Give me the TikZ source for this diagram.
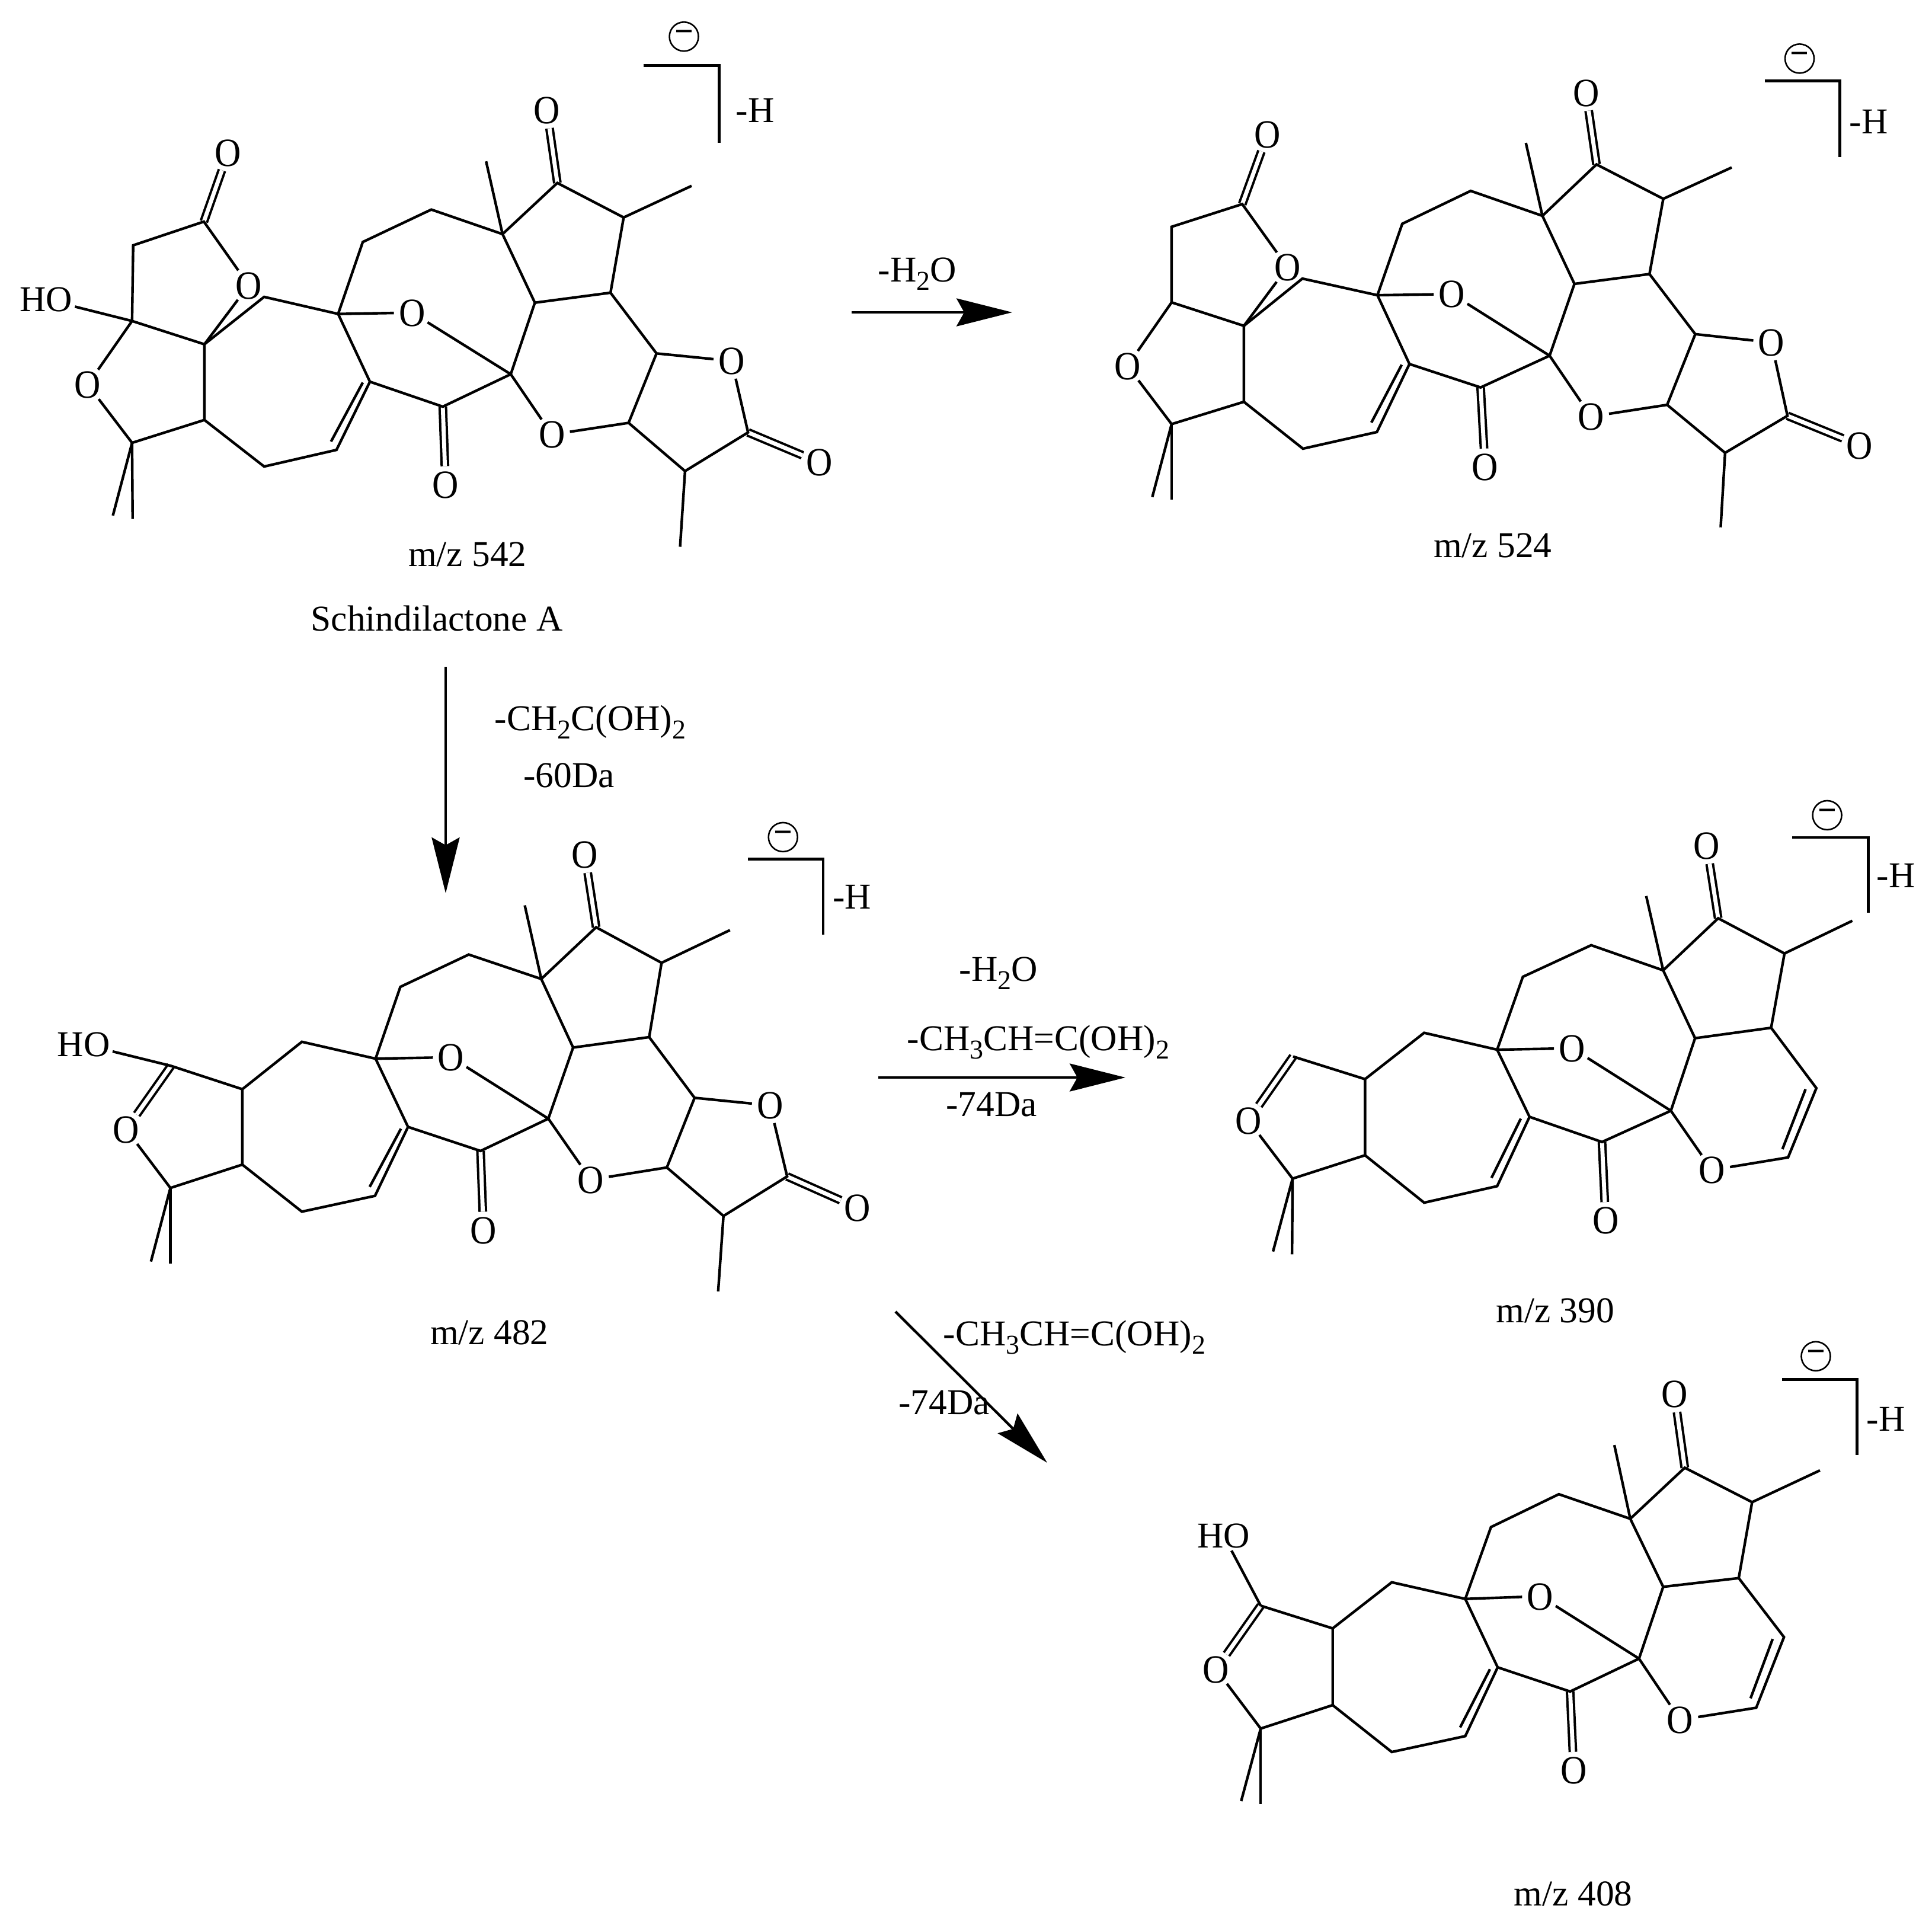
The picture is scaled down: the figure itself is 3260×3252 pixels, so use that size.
\documentclass[tikz,border=0pt]{standalone}
\usepackage{fontspec}
\usepackage{graphicx}
\setmainfont{Liberation Serif}
\usetikzlibrary{arrows.meta}

\tikzset{
  bond/.style={line width=2.2pt},
  dbl/.style={line width=2.0pt,double,double distance=3.4pt,line cap=butt},
  brk/.style={line width=2.4pt,line join=miter},
  rxn/.style={line width=2.2pt,-{Stealth[length=47pt,width=23.5pt,inset=6.5pt]}},
  lab/.style={font=\fontsize{30.7}{34}\selectfont,inner sep=2pt},
  atom/.style={font=\fontsize{30.7}{34}\selectfont,circle,inner sep=0pt,text height=20.8pt,text depth=0pt},
  negchg/.style={circle,draw,line width=1.3pt,inner sep=0pt,minimum size=24.5pt,font=\fontsize{28}{28}\selectfont\bfseries},
}

% subscripts of the formulas
\newcommand{\sbs}[1]{\raisebox{-7pt}{\fontsize{23}{23}\selectfont #1}}

% oxygens and bare vertices of one molecule
\newcommand{\placeatoms}[1]{\foreach \nm/\px/\py in {#1} \node[atom] (\nm) at (\px,\py) {\raisebox{-1pt}{\scalebox{1}[1.1]{O}}};}
\newcommand{\placespots}[1]{\foreach \nm/\px/\py in {#1} \coordinate (\nm) at (\px,\py);}

% part that all five molecules share
\newcommand{\skeleton}{
  \draw[dbl] (cw) -- (ow);
  \draw[dbl] (co) -- (oo);
  \draw[bond] (me1) -- (ce) -- (cf) -- (cd) -- (cx) -- (cj) -- (cl) -- (cm) -- (cn) -- (co) -- (cr) -- (cq) -- (cp) -- (cn) -- (men);
  \draw[bond] (ce) -- (me2);
  \draw[bond] (cr) -- (mer);
  \draw[bond] (cp) -- (ck);
  \draw[bond] (cj) -- (oa) -- (ck) -- (of);
  \draw[bond] (cj) -- (ci) -- (cw) -- (ck);
  \draw[bond] (cf) -- (cg) -- (ch) -- (ci);
  \draw[bond] (ci1) -- (ci2);
}

% left lactone of the two upper molecules
\newcommand{\spiroleft}{
  \draw[dbl] (ca) -- (ot);
  \draw[bond] (cd) -- (oh) -- (ca) -- (cb) -- (cc) -- (cd);
  \draw[bond] (cc) -- (ob) -- (ce);
}
% left ring of the three lower molecules
\newcommand{\openleft}{
  \draw[dbl] (cc) -- (ob);
  \draw[bond] (cd) -- (cc);
  \draw[bond] (ob) -- (ce);
}
% right lactone
\newcommand{\lactoneright}{
  \draw[dbl] (ct) -- (oe);
  \draw[bond] (cq) -- (cs) -- (od) -- (ct) -- (cu) -- (cv) -- (cs);
  \draw[bond] (cu) -- (meu);
  \draw[bond] (cv) -- (of);
}
% right pyran
\newcommand{\pyranright}{
  \draw[bond] (cq) -- (cs) -- (ct) -- (of);
  \draw[bond] (cs1) -- (cs2);
}
% bracket with charge and label
\newcommand{\anionmark}[5]{
  \coordinate (bl) at (#1);
  \coordinate (bc) at (#2);
  \coordinate (be) at (#3);
  \draw[brk] (bl) -- (bc) -- (be);
  \node[negchg] (neg) at (#4) {\raisebox{0.5pt}{−}};
  \node[lab] (dep) at (#5) {-H};
}

\begin{document}
\begin{tikzpicture}[x=0.5pt,y=-0.5pt]

  \useasboundingbox (0,0) rectangle (3260,3252);

  % Schindilactone A
  \begin{scope}[name prefix=ma-,x=0.46235pt,y=-0.35077pt]
    \placeatoms{oa/752/752,ow/813/1165,oo/998/265,of/1007/1045,ob/160/925,oh/454/686,ot/416/368,od/1335/868,oe/1495/1112}
    \placespots{ca/372/533,cb/243/590,cc/241/772,cd/373/828,ce/241/1065,cf/373/1010,cg/482/1122,ch/614/1082,ci/675/918,ci1/604/1062,ci2/662/920,cj/617/755,ck/932/900,cl/662/582,cm/787/504,cn/917/563,co/1017/440,cp/976/728,cq/1114/704,cr/1138/523,cs/1198/850,ct/1365/1040,cu/1250/1133,cv/1147/1017,cw/808/978,cx/482/714,me1/206/1240,me2/242/1248,men/887/388,mer/1262/447,meu/1241/1315}
    \skeleton
    \spiroleft
    \lactoneright
    \node[lab] (ho) at (84,720) {HO};
    \draw[bond] (ho) -- (cc);
    \anionmark{1174,158}{1312,158}{1312,343}{1248,88}{1378,265}
    \node[lab] (mz) at (853,1333) {m/z 542};
    \node[lab] (title) at (797,1487) {Schindilactone A};
  \end{scope}

  % loss of water
  \begin{scope}[name prefix=mb-,xshift=900pt,x=0.46556pt,y=-0.31888pt]
    \placeatoms{oa/698/778,ow/758/1235,oo/941/245,of/950/1102,ob/110/968,oh/400/707,ot/364/355,od/1277/906,oe/1437/1178}
    \placespots{ca/318/540,cb/190/600,cc/190/800,cd/321/862,ce/190/1122,cf/321/1063,cg/428/1187,ch/562/1143,ci/621/963,ci1/552/1118,ci2/607/965,cj/563/781,ck/875/941,cl/608/592,cm/732/505,cn/862/571,co/960/435,cp/920/751,cq/1056/725,cr/1081/526,cs/1139/884,ct/1306/1100,cu/1193/1198,cv/1088/1071,cw/750/1025,cx/427/737,me1/155/1315,me2/190/1322,men/832/378,mer/1205/443,meu/1185/1395}
    \skeleton
    \spiroleft
    \lactoneright
    \anionmark{1265,214}{1401,214}{1401,415}{1328,155}{1453,322}
    \node[lab] (mz) at (772,1443) {m/z 524};
  \end{scope}

  % middle left
  \begin{scope}[name prefix=mc-,yshift=-675pt,x=0.49745pt,y=-0.30293pt]
    \placeatoms{oa/765/716,ow/820/1197,oo/992/152,of/1002/1057,ob/214/917,od/1306/850,oe/1454/1135}
    \placespots{cc/290/740,cd/411/805,ce/289/1080,cf/411/1015,cg/512/1146,ch/636/1102,ci/692/910,ci1/627/1077,ci2/680/915,cj/637/720,ck/930/887,cl/679/520,cm/795/430,cn/918/498,co/1011/354,cp/972/689,cq/1101/660,cr/1122/453,cs/1178/829,ct/1335/1048,cu/1227/1158,cv/1131/1023,cw/815/977,cx/512/673,me1/256/1285,me2/289/1290,men/890/293,mer/1238/362,meu/1218/1368}
    \skeleton
    \openleft
    \lactoneright
    \node[lab] (ho) at (142,680) {HO};
    \draw[bond] (ho) -- (cc);
    \anionmark{1268,164}{1396,164}{1396,375}{1328,103}{1445,270}
    \node[lab] (mz) at (830,1482) {m/z 482};
  \end{scope}

  % middle right
  \begin{scope}[name prefix=md-,xshift=950pt,yshift=-665pt,x=0.43367pt,y=-0.30293pt]
    \placeatoms{oa/868/724,ow/933/1203,oo/1130/160,of/1140/1063,ob/238/925}
    \placespots{cc/325/747,cd/465/810,ce/324/1087,cf/465/1022,cg/580/1154,ch/722/1108,ci/785/915,ci1/711/1085,ci2/768/920,cj/722/728,ck/1060/898,cl/772/525,cm/905/437,cn/1045/507,co/1152/362,cp/1107/696,cq/1255/667,cr/1281/460,cs/1343/835,cs1/1322/838,cs2/1277/1005,ct/1288/1028,cw/926/985,cx/580/681,me1/286/1290,me2/323/1298,men/1012/300,mer/1413/369}
    \skeleton
    \openleft
    \pyranright
    \anionmark{1296,137}{1444,137}{1444,347}{1364,75}{1498,243}
    \node[lab] (mz) at (835,1455) {m/z 390};
  \end{scope}

  % bottom right
  \begin{scope}[name prefix=me-,xshift=950pt,yshift=-1125pt,x=0.43367pt,y=-0.31888pt]
    \placeatoms{oa/806/695,ow/871/1155,oo/1067/160,of/1078/1022,ob/175/888}
    \placespots{cc/262/720,cd/402/780,ce/262/1045,cf/402/983,cg/517/1107,ch/660/1065,ci/723/883,ci1/650/1042,ci2/708/888,cj/660/702,ck/998/860,cl/710/512,cm/842/425,cn/981/490,co/1087/355,cp/1045/670,cq/1192/647,cr/1218/446,cs/1280/803,cs1/1258/808,cs2/1215/965,ct/1226/990,cw/864/947,cx/517/658,me1/224/1237,me2/262/1245,men/950/295,mer/1350/362}
    \skeleton
    \openleft
    \pyranright
    \node[lab] (ho) at (190,535) {HO};
    \draw[bond] (ho) -- (cc);
    \anionmark{1276,122}{1422,122}{1422,322}{1342,60}{1478,226}
    \node[lab] (mz) at (870,1482) {m/z 408};
  \end{scope}

  % Reaction arrows
  \coordinate (ra) at (1437,527);
  \coordinate (rb) at (1708,527);
  \coordinate (rc) at (752,1125);
  \coordinate (rd) at (752,1507);
  \coordinate (re) at (1482,1818);
  \coordinate (rf) at (1899,1818);
  \coordinate (rg) at (1511,2213);
  \coordinate (rh) at (1767,2468);
  \draw[rxn] (ra) -- (rb);
  \draw[rxn] (rc) -- (rd);
  \draw[rxn] (re) -- (rf);
  \draw[rxn] (rg) -- (rh);

  % labels on the arrows
  \node[lab] (la) at (1548,462) {-H\sbs{2}O};
  \node[lab] (lb) at (996,1218) {-CH\sbs{2}C(OH)\sbs{2}};
  \node[lab] (lc) at (960,1308) {-60Da};
  \node[lab] (ld) at (1685,1642) {-H\sbs{2}O};
  \node[lab] (le) at (1752,1758) {-CH\sbs{3}CH=C(OH)\sbs{2}};
  \node[lab] (lf) at (1673,1864) {-74Da};
  \node[lab] (lg) at (1813,2256) {-CH\sbs{3}CH=C(OH)\sbs{2}};
  \node[lab] (lh) at (1593,2367) {-74Da};

\end{tikzpicture}
\end{document}
